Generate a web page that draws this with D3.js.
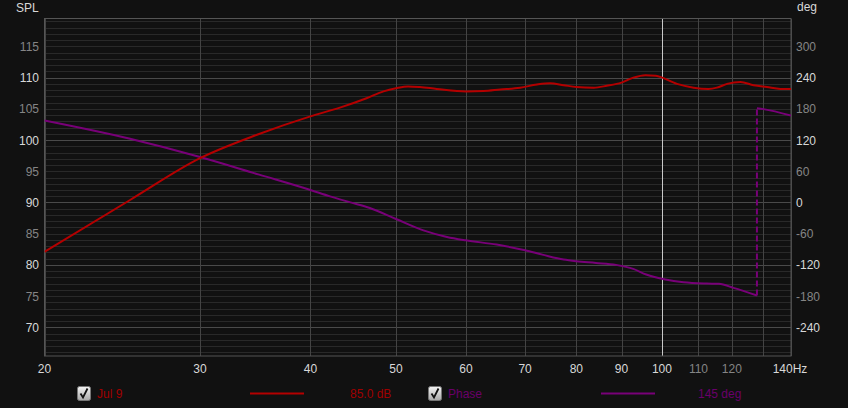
<!DOCTYPE html>
<html><head><meta charset="utf-8">
<script src="https://cdn.jsdelivr.net/npm/d3@7/dist/d3.min.js"></script>
<style>
html,body{margin:0;padding:0;background:#111111;}
svg{display:block;}
text{font-family:"Liberation Sans",Arial,sans-serif;font-size:12px;}
</style></head>
<body>
<svg id="c" width="848" height="408"></svg>
<script>
// ---- data ----
const splFreq = [20,25,30,34.8,40,43.2,46.3,48.4,50,51.6,53.2,55.6,60,62.8,65.6,69.1,72.2,74.7,77.4,80,83.7,86.6,90,92.8,95.8,98.4,104,108.6,112.9,115.4,118.5,122.7,127,131.5,136.2,140];
const splVal  = [82.1,90.4,97.1,100.85,103.8,105.2,106.7,107.8,108.3,108.6,108.5,108.2,107.8,107.85,108.1,108.4,108.9,109.1,108.8,108.5,108.4,108.7,109.2,110.0,110.4,110.3,109.0,108.4,108.2,108.4,109.0,109.3,108.8,108.5,108.2,108.2];
const phaseFreqA = [20,25,30,35,40,42.1,44.4,46.7,50,53.7,57.1,60,65,70,73.4,77.4,80,84.2,88.7,92.8,96,100.9,105.8,112.4,116,120.5,128.1];
const phaseValA  = [157.6,122.5,87.4,53.5,24.0,11.7,0.2,-10.6,-31.7,-53.6,-66.2,-72.8,-81,-92,-100.8,-109.8,-113,-116.2,-120,-127.7,-138.6,-148.2,-153.4,-155.9,-156.5,-164.2,-178.9];
const phaseFreqB = [128.1,130.3,140];
const phaseValB  = [181.4,179.5,167.2];
const xTicks = [20,30,40,50,60,70,80,90,100,110,120,130,140];
const xLabels = ["20","30","40","50","60","70","80","90","100","110","120","","140Hz"];
const splTicks = [70,75,80,85,90,95,100,105,110,115];
const degTicks = [-240,-180,-120,-60,0,60,120,180,240,300];
const legendNames = ["Jul 9","Phase"];
const legendValues = ["85.0 dB","145 deg"];

// ---- layout ----
const L = 44.5, R = 791, T = 19, B = 356;
const svg = d3.select("#c");
const x = d3.scaleLog().domain([20,140]).range([L,R]);
const y = d3.scaleLinear().domain([65.4,119.4]).range([B,T]);
const yp = d3.scaleLinear().domain([(65.4-90)*12,(119.4-90)*12]).range([B,T]);

const RED = "#b40000", PURPLE = "#780078";

// minor horizontal grid every 1 dB
const g = svg.append("g");
g.selectAll("line.minor").data(d3.range(66,120)).enter().append("line")
  .attr("x1",L).attr("x2",R).attr("y1",d=>Math.round(y(d))+0.5).attr("y2",d=>Math.round(y(d))+0.5)
  .attr("stroke", d=> d%10===0 ? "#4a4a4a" : "#292929").attr("stroke-width",1);
// vertical grid
g.selectAll("line.v").data(xTicks).enter().append("line")
  .attr("x1",d=>Math.round(x(d))+0.5).attr("x2",d=>Math.round(x(d))+0.5).attr("y1",T).attr("y2",B)
  .attr("stroke", d=> d===100 ? "#c8c8c8" : "#444444").attr("stroke-width",1);
// frame
svg.append("rect").attr("x",L).attr("y",T-0.5).attr("width",R-L).attr("height",B-T+0.5)
  .attr("fill","none").attr("stroke","#555").attr("stroke-width",1);

// axes labels
svg.selectAll("text.yl").data(splTicks).enter().append("text")
  .attr("x",39).attr("y",d=>y(d)+4.5).attr("text-anchor","end")
  .attr("fill",d=>d%10===0?"#d8d8d8":"#858585").text(d=>d);
svg.selectAll("text.yr").data(degTicks).enter().append("text")
  .attr("x",796).attr("y",d=>yp(d)+4.5).attr("text-anchor","start")
  .attr("fill",d=>d%120===0?"#d8d8d8":"#858585").text(d=>d);
svg.selectAll("text.xl").data(xTicks).enter().append("text")
  .attr("x",(d,i)=> i===xTicks.length-1 ? x(d)-1 : x(d)).attr("y",373).attr("text-anchor","middle")
  .attr("fill",d=> (d===110||d===120)?"#858585":"#d8d8d8").text((d,i)=>xLabels[i]);
svg.append("text").attr("x",16).attr("y",12).attr("fill","#d8d8d8").text("SPL");
svg.append("text").attr("x",797).attr("y",10.5).attr("fill","#d8d8d8").text("deg");

// curves
const clip = svg.append("clipPath").attr("id","pc").append("rect").attr("x",L).attr("y",T).attr("width",R-L).attr("height",B-T);
const lineS = d3.line().x(d=>x(d[0])).y(d=>y(d[1])).curve(d3.curveMonotoneX);
const lineP = d3.line().x(d=>x(d[0])).y(d=>yp(d[1])).curve(d3.curveMonotoneX);
const pg = svg.append("g").attr("clip-path","url(#pc)");
pg.append("path").datum(phaseFreqA.map((f,i)=>[f,phaseValA[i]])).attr("d",lineP)
  .attr("fill","none").attr("stroke",PURPLE).attr("stroke-width",2);
pg.append("path").datum(phaseFreqB.map((f,i)=>[f,phaseValB[i]])).attr("d",lineP)
  .attr("fill","none").attr("stroke",PURPLE).attr("stroke-width",2);
pg.append("line").attr("x1",x(phaseFreqA[phaseFreqA.length-1])).attr("x2",x(phaseFreqB[0]))
  .attr("y1",yp(phaseValA[phaseValA.length-1])).attr("y2",yp(phaseValB[0]))
  .attr("stroke",PURPLE).attr("stroke-width",2).attr("stroke-dasharray","6,3");
pg.append("path").datum(splFreq.map((f,i)=>[f,splVal[i]])).attr("d",lineS)
  .attr("fill","none").attr("stroke",RED).attr("stroke-width",2);

// legend
const legX = [[77,97,250,304,350],[428,448,601,655,698]];
legendNames.forEach((n,i)=>{
  const p = legX[i];
  const cb = svg.append("g").attr("transform",`translate(${p[0]},386)`);
  const grad = svg.append("defs").append("linearGradient").attr("id","cbg"+i).attr("x1",0).attr("y1",0).attr("x2",0).attr("y2",1);
  grad.append("stop").attr("offset","0%").attr("stop-color","#f4f4f4");
  grad.append("stop").attr("offset","100%").attr("stop-color","#a8a8a8");
  cb.append("rect").attr("x",0.5).attr("y",0.5).attr("width",13).attr("height",14).attr("rx",2)
    .attr("fill","url(#cbg"+i+")").attr("stroke","#777");
  cb.append("path").attr("d","M3.5,7.5 L6,11.5 L10.5,2.5").attr("fill","none").attr("stroke","#111").attr("stroke-width",1.8);
  svg.append("text").attr("x",p[1]).attr("y",398).attr("fill",i===0?"#a00000":"#6a006a").text(n);
  svg.append("line").attr("x1",p[2]).attr("x2",p[3]).attr("y1",393.5).attr("y2",393.5)
    .attr("stroke",i===0?RED:PURPLE).attr("stroke-width",2);
  svg.append("text").attr("x",p[4]).attr("y",398).attr("fill",i===0?"#a00000":"#6a006a").text(legendValues[i]);
});
</script>
</body></html>
